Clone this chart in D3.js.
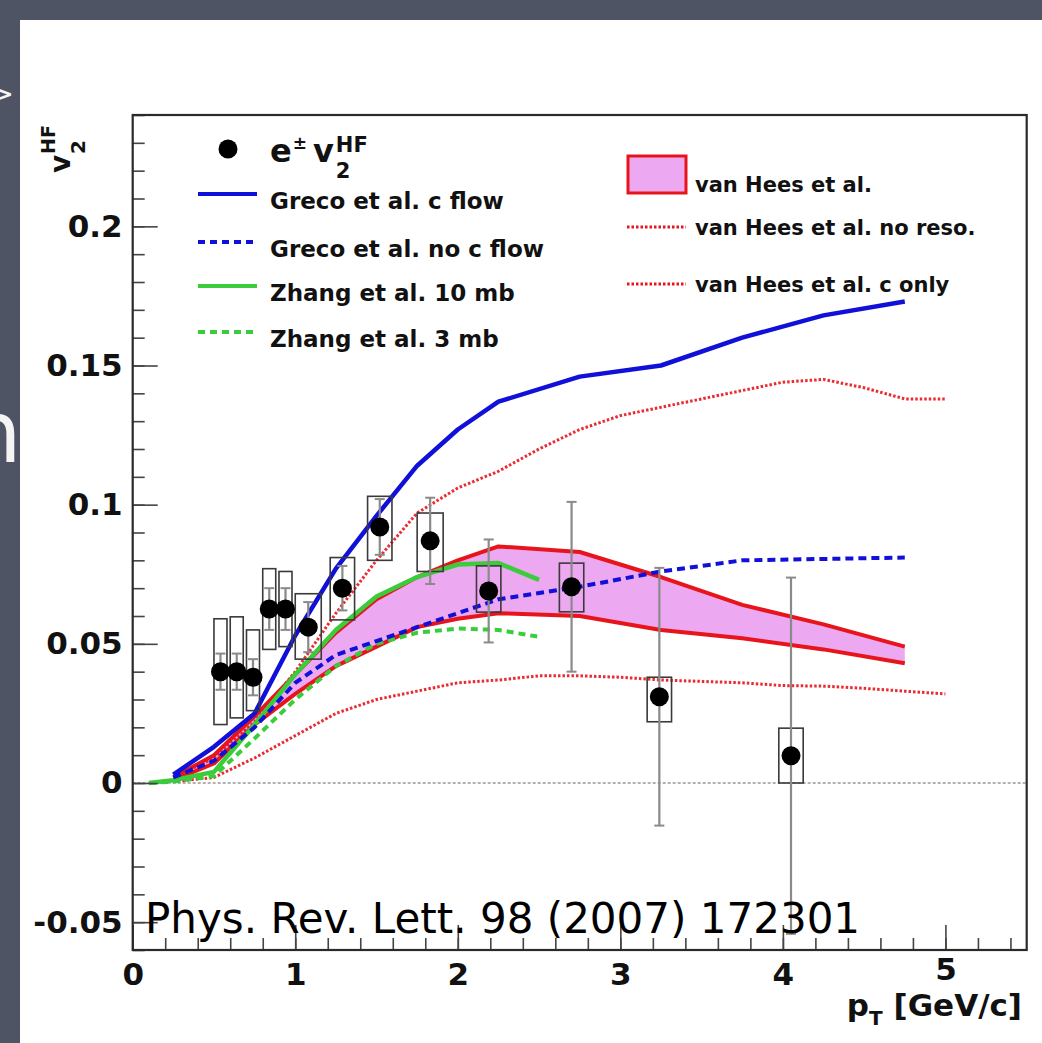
<!DOCTYPE html>
<html>
<head>
<meta charset="utf-8">
<script src="https://cdn.jsdelivr.net/npm/d3@7"></script>
<style>
  html, body { margin: 0; padding: 0; background: #4e5464; overflow: hidden; }
  svg { display: block; }
</style>
</head>
<body>
<svg id="chart" width="1042" height="1043"></svg>
<script>
// ---------- measured heavy-flavour electron v2 ----------
const ptData   = [0.54, 0.64, 0.74, 0.84, 0.94, 1.08, 1.29, 1.52, 1.83, 2.19, 2.70, 3.24, 4.05];
const v2Data   = [0.040, 0.040, 0.038, 0.0625, 0.0625, 0.056, 0.070, 0.092, 0.087, 0.069, 0.0705, 0.031, 0.0098];
const statErr  = [0.0065, 0.0065, 0.0065, 0.0075, 0.0075, 0.009, 0.008, 0.010, 0.0155, 0.0185, 0.0305, 0.0463, 0.064];
const sysHigh  = [0.059, 0.0597, 0.055, 0.077, 0.076, 0.068, 0.081, 0.103, 0.097, 0.078, 0.079, 0.038, 0.0197];
const sysLow   = [0.021, 0.0234, 0.026, 0.048, 0.049, 0.0445, 0.0586, 0.080, 0.076, 0.0614, 0.0615, 0.022, 0.0];
const binHalf  = [0.04, 0.04, 0.04, 0.04, 0.04, 0.08, 0.075, 0.075, 0.08, 0.075, 0.075, 0.075, 0.075];

// ---------- model curves ----------
const grecoPt      = [0.25, 0.5, 0.75, 1.0, 1.25, 1.5, 1.75, 2.0, 2.25, 2.75, 3.25, 3.75, 4.25, 4.75];
const grecoCFlow   = [0.003, 0.013, 0.025, 0.053, 0.077, 0.096, 0.114, 0.127, 0.137, 0.146, 0.150, 0.160, 0.168, 0.173];
const grecoNoCFlow = [0.002, 0.008, 0.020, 0.036, 0.046, 0.051, 0.056, 0.061, 0.066, 0.0705, 0.076, 0.080, 0.0805, 0.081];

const zhangPt    = [0.1, 0.25, 0.5, 0.75, 1.0, 1.25, 1.5, 1.75, 2.0, 2.25, 2.5];
const zhang10mb  = [0.0, 0.001, 0.004, 0.021, 0.039, 0.055, 0.067, 0.074, 0.0785, 0.079, 0.073];
const zhang3mb   = [0.0, 0.0005, 0.0025, 0.016, 0.030, 0.042, 0.050, 0.054, 0.0555, 0.055, 0.0525];

const heesPt     = [0.25, 0.5, 0.75, 1.0, 1.25, 1.5, 1.75, 2.0, 2.25, 2.75, 3.25, 3.75, 4.25, 4.75];
const heesUpper  = [0.002, 0.010, 0.024, 0.039, 0.054, 0.066, 0.074, 0.080, 0.085, 0.083, 0.074, 0.064, 0.057, 0.049];
const heesLower  = [0.001, 0.007, 0.021, 0.032, 0.042, 0.049, 0.056, 0.059, 0.061, 0.060, 0.055, 0.052, 0.048, 0.043];

const heesLinePt = [0.25, 0.5, 0.75, 1.0, 1.25, 1.5, 1.75, 2.0, 2.25, 2.5, 2.75, 3.0, 3.25, 3.5, 3.75, 4.0, 4.25, 4.5, 4.75, 5.0];
const heesNoReso = [0.002, 0.009, 0.022, 0.040, 0.061, 0.080, 0.097, 0.106, 0.112, 0.120, 0.127, 0.132, 0.135, 0.138, 0.141, 0.144, 0.145, 0.142, 0.138, 0.138];
const heesCOnly  = [0.0005, 0.002, 0.009, 0.017, 0.025, 0.030, 0.033, 0.036, 0.037, 0.0385, 0.0385, 0.038, 0.037, 0.0365, 0.036, 0.035, 0.0348, 0.034, 0.033, 0.032];

// ---------- axes ----------
const xTickValues = [0, 1, 2, 3, 4, 5];
const xTickLabels = ["0", "1", "2", "3", "4", "5"];
const yTickValues = [-0.05, 0, 0.05, 0.1, 0.15, 0.2];
const yTickLabels = ["-0.05", "0", "0.05", "0.1", "0.15", "0.2"];

const legendLeft  = ["Greco et al. c flow", "Greco et al. no c flow", "Zhang et al. 10 mb", "Zhang et al. 3 mb"];
const legendRight = ["van Hees et al.", "van Hees et al. no reso.", "van Hees et al. c only"];
const citation = "Phys. Rev. Lett. 98 (2007) 172301";

// ---------- drawing ----------
const svg = d3.select("#chart");
const FONT = "'DejaVu Sans', sans-serif";

const frame = { left: 132.7, right: 1026.7, top: 115, bottom: 950 };
const x = d3.scaleLinear().domain([0, 5.5]).range([frame.left, frame.right]);
const y = d3.scaleLinear().domain([-0.06, 0.24]).range([frame.bottom, frame.top]);

const BLUE = "#1010d8", GREEN = "#3acc3a", RED = "#e8141c", PINK = "#eca8f0", GREY = "#8a8a8a";

// slide background and white panel
svg.append("rect").attr("width", 1042).attr("height", 1043).attr("fill", "#4e5464");
svg.append("rect").attr("x", 20).attr("y", 20).attr("width", 1022).attr("height", 1023).attr("fill", "#ffffff");

// clipped slide-text fragments at the left edge
svg.append("text").attr("x", -11).attr("y", 104).attr("font-family", FONT)
  .attr("font-size", 30).attr("fill", "#f4f4f4").text(">");
svg.append("text").attr("x", -33).attr("y", 462).attr("font-family", FONT)
  .attr("font-size", 86).attr("fill", "#f4f4f4").text("n");

// zero reference line
svg.append("line")
  .attr("x1", frame.left).attr("x2", frame.right)
  .attr("y1", y(0)).attr("y2", y(0))
  .attr("stroke", "#999").attr("stroke-width", 1.6).attr("stroke-dasharray", "3,2");

const line = (xs, ys) => d3.line().x((d, i) => x(xs[i])).y(d => y(d))(ys);

// van Hees band
const area = d3.area()
  .x((d, i) => x(heesPt[i]))
  .y0((d, i) => y(heesLower[i]))
  .y1(d => y(d));
svg.append("path").attr("d", area(heesUpper)).attr("fill", PINK);
svg.append("path").attr("d", line(heesPt, heesUpper)).attr("fill", "none")
  .attr("stroke", RED).attr("stroke-width", 4).attr("stroke-linejoin", "round");
svg.append("path").attr("d", line(heesPt, heesLower)).attr("fill", "none")
  .attr("stroke", RED).attr("stroke-width", 4).attr("stroke-linejoin", "round");

// van Hees dotted curves
const dottedRed = (ys) => svg.append("path").attr("d", line(heesLinePt, ys)).attr("fill", "none")
  .attr("stroke", RED).attr("stroke-width", 3).attr("stroke-dasharray", "2.5,2").attr("opacity", 0.9);
dottedRed(heesNoReso);
dottedRed(heesCOnly);

// Zhang curves
svg.append("path").attr("d", line(zhangPt, zhang3mb)).attr("fill", "none")
  .attr("stroke", GREEN).attr("stroke-width", 4).attr("stroke-dasharray", "7,5");
svg.append("path").attr("d", line(zhangPt, zhang10mb)).attr("fill", "none")
  .attr("stroke", GREEN).attr("stroke-width", 4.5).attr("stroke-linejoin", "round");

// Greco curves
svg.append("path").attr("d", line(grecoPt, grecoNoCFlow)).attr("fill", "none")
  .attr("stroke", BLUE).attr("stroke-width", 4).attr("stroke-dasharray", "8,5");
svg.append("path").attr("d", line(grecoPt, grecoCFlow)).attr("fill", "none")
  .attr("stroke", BLUE).attr("stroke-width", 4.5).attr("stroke-linejoin", "round");

// data: systematic boxes, statistical bars, markers
const pts = ptData.map((p, i) => ({ p, v: v2Data[i], s: statErr[i], hi: sysHigh[i], lo: sysLow[i], w: binHalf[i] }));
const dataG = svg.append("g");
dataG.selectAll("rect.sys").data(pts).join("rect").attr("class", "sys")
  .attr("x", d => x(d.p - d.w)).attr("width", d => x(d.p + d.w) - x(d.p - d.w))
  .attr("y", d => y(d.hi)).attr("height", d => y(d.lo) - y(d.hi))
  .attr("fill", "none").attr("stroke", "#3a3a3a").attr("stroke-width", 1.6);
dataG.selectAll("line.stat").data(pts).join("line").attr("class", "stat")
  .attr("x1", d => x(d.p)).attr("x2", d => x(d.p))
  .attr("y1", d => y(d.v + d.s)).attr("y2", d => y(d.v - d.s))
  .attr("stroke", GREY).attr("stroke-width", 2.2);
["+", "-"].forEach(sgn => {
  dataG.selectAll("line.cap" + (sgn === "+" ? "u" : "d")).data(pts).join("line")
    .attr("class", "cap" + (sgn === "+" ? "u" : "d"))
    .attr("x1", d => x(d.p) - 5).attr("x2", d => x(d.p) + 5)
    .attr("y1", d => y(sgn === "+" ? d.v + d.s : d.v - d.s))
    .attr("y2", d => y(sgn === "+" ? d.v + d.s : d.v - d.s))
    .attr("stroke", GREY).attr("stroke-width", 2);
});
dataG.selectAll("circle").data(pts).join("circle")
  .attr("cx", d => x(d.p)).attr("cy", d => y(d.v)).attr("r", 9.5).attr("fill", "#000");

// axes (ticks pointing inward)
const yAxis = d3.axisLeft(y).tickValues(yTickValues)
  .tickFormat((d, i) => yTickLabels[i]).tickSizeInner(-25).tickSizeOuter(0).tickPadding(10);
const yMinor = d3.axisLeft(y).tickValues(d3.range(-0.06, 0.2401, 0.01)).tickFormat("")
  .tickSizeInner(-12).tickSizeOuter(0);
const xAxis = d3.axisBottom(x).tickValues(xTickValues)
  .tickFormat((d, i) => xTickLabels[i]).tickSizeInner(-25).tickSizeOuter(0).tickPadding(13);
const xMinor = d3.axisBottom(x).tickValues(d3.range(0, 5.501, 0.2)).tickFormat("")
  .tickSizeInner(-12).tickSizeOuter(0);

function styleAxis(g) {
  g.select(".domain").remove();
  g.selectAll(".tick line").attr("stroke", "#444").attr("stroke-width", 1.6);
  g.selectAll(".tick text").attr("font-family", FONT).attr("font-weight", "bold")
    .attr("font-size", 31).attr("fill", "#111");
}
svg.append("g").attr("transform", `translate(${frame.left},0)`).call(yMinor).call(styleAxis);
svg.append("g").attr("transform", `translate(${frame.left},0)`).call(yAxis).call(styleAxis);
svg.append("g").attr("transform", `translate(0,${frame.bottom})`).call(xMinor).call(styleAxis);
const xg = svg.append("g").attr("transform", `translate(0,${frame.bottom})`).call(xAxis).call(styleAxis);
// the last label sits a little higher, above the axis title
xg.selectAll(".tick").filter(d => d === 5).select("text").attr("y", 8);

// frame
svg.append("rect").attr("x", frame.left).attr("y", frame.top)
  .attr("width", frame.right - frame.left).attr("height", frame.bottom - frame.top)
  .attr("fill", "none").attr("stroke", "#2a2a2a").attr("stroke-width", 2.2);

// axis titles
const xt = svg.append("text").attr("x", 1022).attr("y", 1016).attr("text-anchor", "end")
  .attr("font-family", FONT).attr("font-weight", "bold").attr("font-size", 31).attr("fill", "#111");
xt.append("tspan").text("p");
xt.append("tspan").attr("font-size", 20).attr("dy", 9).text("T");
xt.append("tspan").attr("dy", -9).text(" [GeV/c]");

const yt = svg.append("g").attr("transform", "translate(70,173) rotate(-90)")
  .attr("font-family", FONT).attr("font-weight", "bold").attr("fill", "#111");
yt.append("text").attr("x", 0).attr("y", 0).attr("font-size", 28).text("v");
yt.append("text").attr("x", 19).attr("y", 15).attr("font-size", 20).text("2");
yt.append("text").attr("x", 19).attr("y", -15).attr("font-size", 19).text("HF");

// left legend
const lg = svg.append("g").attr("font-family", FONT).attr("font-weight", "bold").attr("fill", "#111");
lg.append("circle").attr("cx", 228).attr("cy", 149).attr("r", 9.5).attr("fill", "#000");
const head = lg.append("text").attr("x", 270).attr("y", 162).attr("font-size", 32);
head.append("tspan").text("e");
head.append("tspan").attr("font-size", 17).attr("dy", -13).attr("dx", 1).text("±");
head.append("tspan").attr("dy", 13).attr("dx", 6).text("v");
const headEnd = 270 + head.node().getComputedTextLength() + 9;
lg.append("text").attr("x", headEnd).attr("y", 152).attr("font-size", 21).text("HF");
lg.append("text").attr("x", headEnd).attr("y", 178).attr("font-size", 21).text("2");

const leftRows = [
  { y: 194, color: BLUE, dash: null, w: 4 },
  { y: 242, color: BLUE, dash: "7,5", w: 4 },
  { y: 286, color: GREEN, dash: null, w: 4 },
  { y: 332, color: GREEN, dash: "7,5", w: 4 }
];
leftRows.forEach((r, i) => {
  lg.append("line").attr("x1", 198).attr("x2", 257).attr("y1", r.y).attr("y2", r.y)
    .attr("stroke", r.color).attr("stroke-width", r.w).attr("stroke-dasharray", r.dash);
  lg.append("text").attr("x", 270).attr("y", r.y + 15).attr("font-size", 23).text(legendLeft[i]);
});

// right legend
const rg = svg.append("g").attr("font-family", FONT).attr("font-weight", "bold").attr("fill", "#111");
rg.append("rect").attr("x", 628).attr("y", 156).attr("width", 58).attr("height", 37)
  .attr("fill", PINK).attr("stroke", RED).attr("stroke-width", 3);
rg.append("text").attr("x", 695).attr("y", 192).attr("font-size", 21).text(legendRight[0]);
[{ y: 227 }, { y: 284 }].forEach((r, i) => {
  rg.append("line").attr("x1", 627).attr("x2", 686).attr("y1", r.y).attr("y2", r.y)
    .attr("stroke", RED).attr("stroke-width", 3).attr("stroke-dasharray", "2.5,2");
  rg.append("text").attr("x", 695).attr("y", r.y + 8).attr("font-size", 21).text(legendRight[i + 1]);
});

// citation
svg.append("text").attr("x", 145).attr("y", 933).attr("font-family", FONT)
  .attr("font-size", 42).attr("fill", "#000").text(citation);
</script>
</body>
</html>
